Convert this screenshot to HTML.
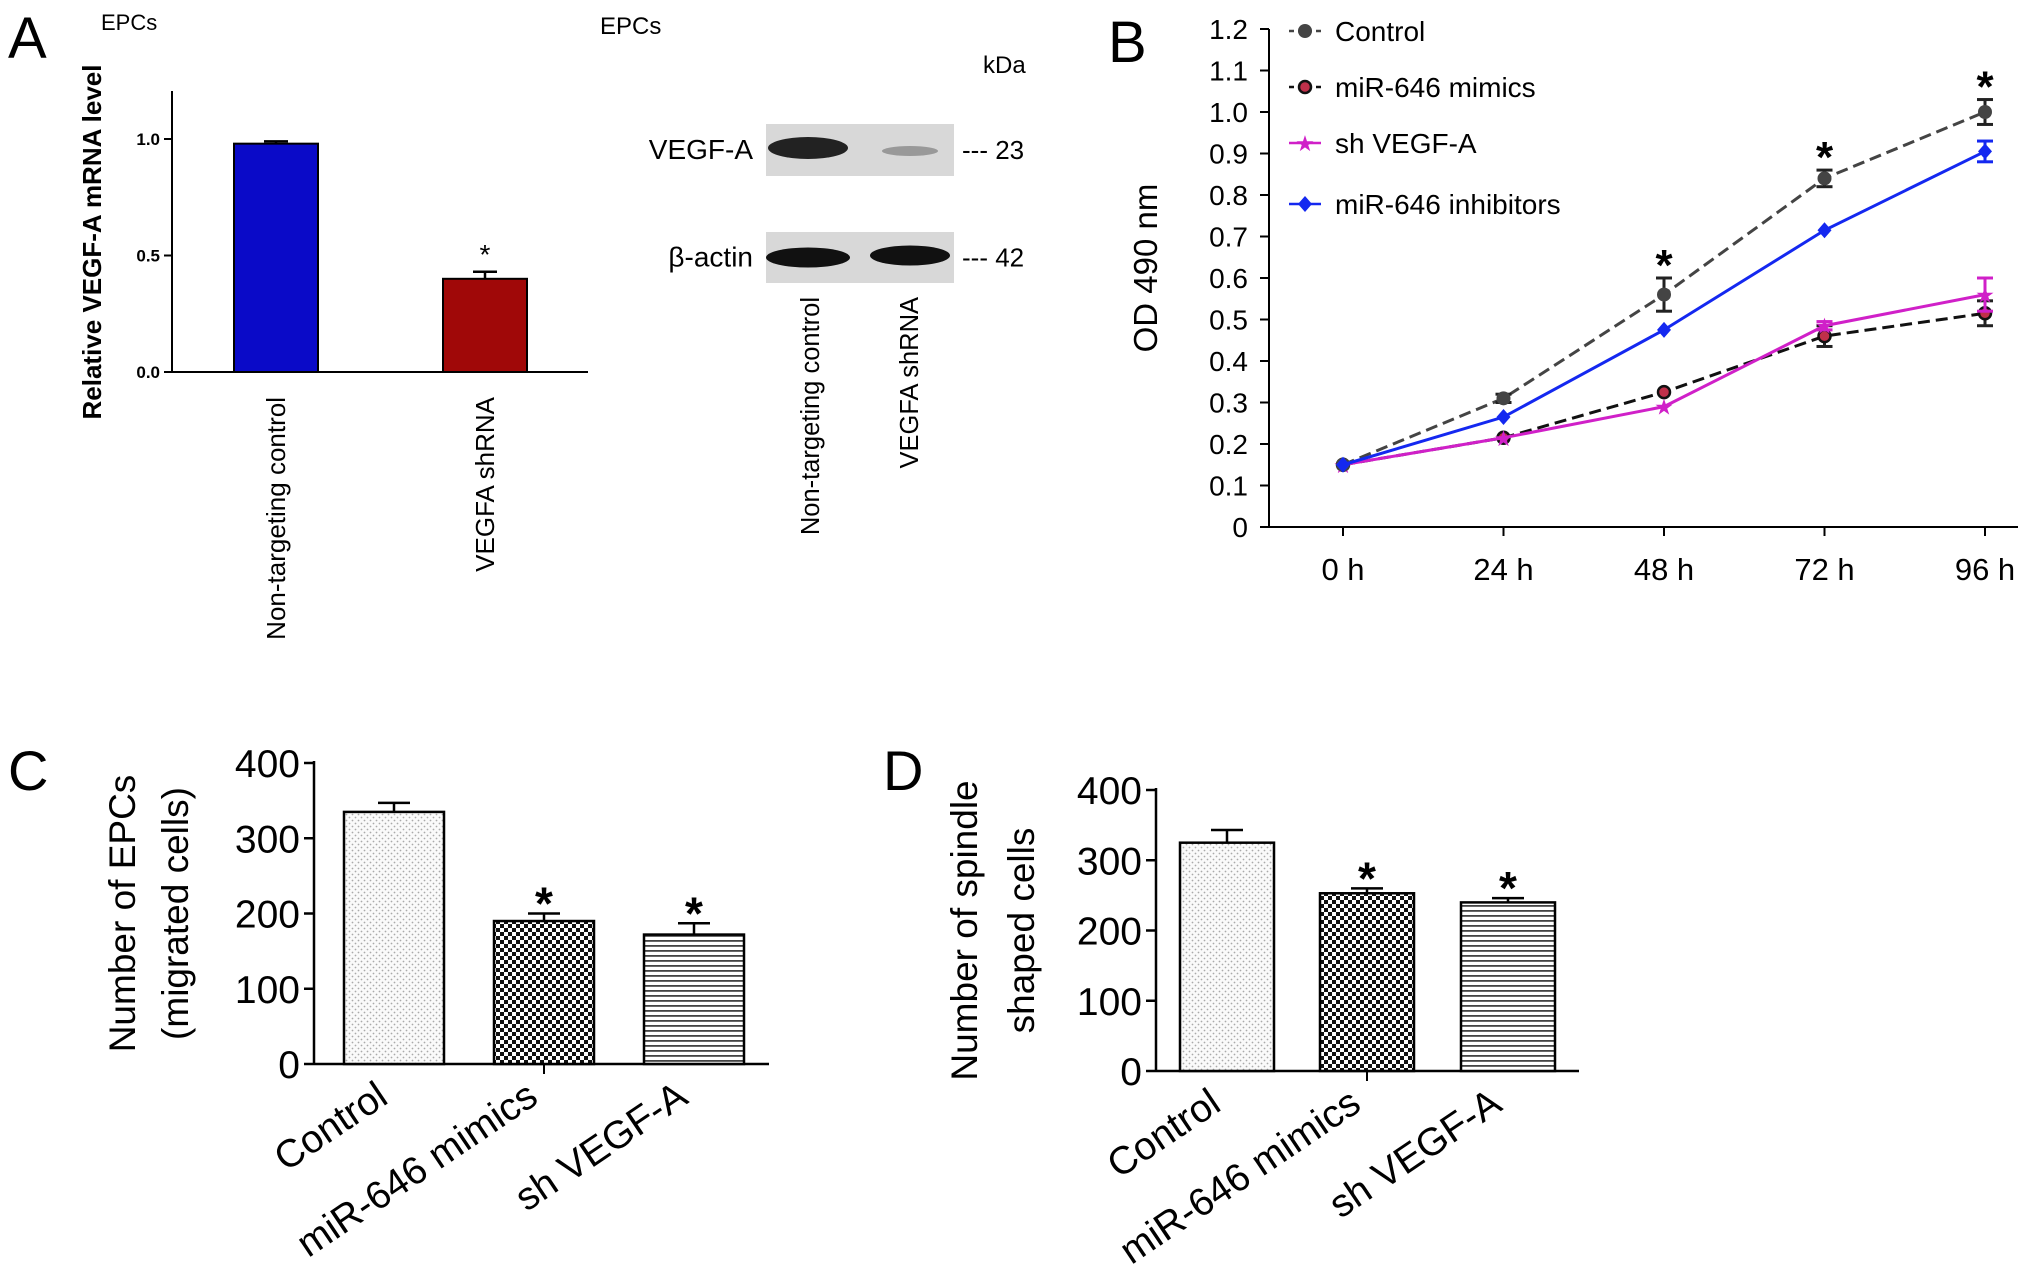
<!DOCTYPE html>
<html><head><meta charset="utf-8"><style>
html,body{margin:0;padding:0;background:#fff;width:2031px;height:1274px;overflow:hidden}
svg{display:block;font-family:"Liberation Sans",Arial,sans-serif}
</style></head><body>
<svg id="fig" width="2031" height="1274" viewBox="0 0 2031 1274">
<defs>
<pattern id="dots" width="6" height="6" patternUnits="userSpaceOnUse"><rect width="6" height="6" fill="#fafafa"/><circle cx="1.5" cy="1.5" r="0.9" fill="#aaa"/><circle cx="4.5" cy="4.5" r="0.9" fill="#aaa"/></pattern>
<pattern id="checks" width="8" height="8" patternUnits="userSpaceOnUse"><rect width="8" height="8" fill="#fff"/><rect width="4" height="4" fill="#111"/><rect x="4" y="4" width="4" height="4" fill="#111"/></pattern>
<pattern id="stripes" width="6" height="5" patternUnits="userSpaceOnUse"><rect width="6" height="5" fill="#fff"/><rect y="0" width="6" height="1.8" fill="#444"/></pattern>
</defs>
<g id="root"></g>
</svg>
<script>
// Panel A
const aCats=["Non-targeting control","VEGFA shRNA"];
const aVals=[0.98,0.40];
const aErr=[0.01,0.03];
const aTicks=[0.0,0.5,1.0];
// Panel B
const bCats=["0 h","24 h","48 h","72 h","96 h"];
const bSeriesNames=["Control","miR-646 mimics","sh VEGF-A","miR-646 inhibitors"];
const bControl=[0.15,0.31,0.56,0.84,1.0];
const bMimics=[0.15,0.215,0.325,0.46,0.515];
const bSh=[0.15,0.215,0.29,0.485,0.56];
const bInhib=[0.15,0.265,0.475,0.715,0.905];
const bControlErr=[0.005,0.01,0.04,0.02,0.03];
const bMimicsErr=[0.005,0.005,0.005,0.025,0.03];
const bShErr=[0.005,0.005,0.005,0.01,0.04];
const bInhibErr=[0.005,0.005,0.005,0.005,0.025];
const bTicks=[0,0.1,0.2,0.3,0.4,0.5,0.6,0.7,0.8,0.9,1.0,1.1,1.2];
// Panel C
const cCats=["Control","miR-646 mimics","sh VEGF-A"];
const cVals=[335,190,172];
const cErr=[12,10,15];
const cTicks=[0,100,200,300,400];
// Panel D
const dCats=["Control","miR-646 mimics","sh VEGF-A"];
const dVals=[325,253,240];
const dErr=[18,7,6];
const dTicks=[0,100,200,300,400];

const NS="http://www.w3.org/2000/svg";
const root=document.getElementById('root');
function el(tag,attrs,parent,text){const e=document.createElementNS(NS,tag);for(const k in attrs)e.setAttribute(k,attrs[k]);if(text!==undefined)e.textContent=text;(parent||root).appendChild(e);return e;}
function line(x1,y1,x2,y2,st,w,p,dash){const l=el('line',{x1,y1,x2,y2,stroke:st||'#000','stroke-width':w||2},p);if(dash)l.setAttribute('stroke-dasharray',dash);return l;}

// ---------- Panel A ----------
const gA=el('g',{});


let t=el('text',{x:8,y:58,'font-size':58},gA,'A');

t=el('text',{x:101,y:30,'font-size':22},gA,'EPCs');

const aY=v=>372-v*(372-139);
line(172,91,172,372,'#000',2,gA);line(172,372,588,372,'#000',2,gA);
aTicks.forEach(v=>{line(164,aY(v),172,aY(v),'#000',2,gA);const tt=el('text',{x:160,y:aY(v)+6,'font-size':17,'font-weight':'bold','text-anchor':'end'},gA,v.toFixed(1));});
const aX=[276,485],aColors=['#0a0ac8','#a00808'];
aVals.forEach((v,i)=>{const w=84;const r=el('rect',{x:aX[i]-w/2,y:aY(v),width:w,height:aY(0)-aY(v),fill:aColors[i],stroke:'#000','stroke-width':2},gA);
 const ye=aY(v+aErr[i]);line(aX[i],aY(v),aX[i],ye,'#000',2.5,gA);line(aX[i]-12,ye,aX[i]+12,ye,'#000',2.5,gA);
 const lb=el('text',{transform:`translate(${aX[i]+9},397) rotate(-90)`,'font-size':26,'text-anchor':'end'},gA,aCats[i]);});
t=el('text',{x:485,y:aY(aVals[1]+aErr[1])-8,'font-size':28,'text-anchor':'middle'},gA,'*');
t=el('text',{transform:'translate(101,242) rotate(-90)','font-size':26,'font-weight':'bold','text-anchor':'middle'},gA,'Relative VEGF-A mRNA level');

// western blot
t=el('text',{x:600,y:34,'font-size':24},gA,'EPCs');
t=el('text',{x:983,y:73,'font-size':24},gA,'kDa');
[['VEGF-A',124,176,'--- 23'],['β-actin',232,283,'--- 42']].forEach((b,i)=>{
 const r=el('rect',{x:766,y:b[1],width:188,height:b[2]-b[1],fill:'#d8d8d8'},gA);
 const cy=(b[1]+b[2])/2;
 if(i===0){el('ellipse',{cx:808,cy:cy-2,rx:40,ry:11,fill:'#222'},gA);el('ellipse',{cx:910,cy:cy+1,rx:28,ry:5,fill:'#999'},gA);}
 else{el('ellipse',{cx:808,cy:cy,rx:42,ry:10,fill:'#111'},gA);el('ellipse',{cx:910,cy:cy-2,rx:40,ry:10,fill:'#111'},gA);}
 const l=el('text',{x:753,y:cy+9,'font-size':28,'text-anchor':'end'},gA,b[0]);
 const k=el('text',{x:962,y:cy+9,'font-size':26},gA,b[3]);
});
[['Non-targeting control',819],['VEGFA shRNA',918]].forEach(l=>{const tt=el('text',{transform:`translate(${l[1]},297) rotate(-90)`,'font-size':25.5,'text-anchor':'end'},gA,l[0]);});

// ---------- Panel B ----------
const gB=el('g',{});


t=el('text',{x:1108,y:62,'font-size':58},gB,'B');
const bY=v=>527-v*(527-29)/1.2;
const bX=i=>1343+i*160.5;
line(1269,29,1269,527,'#000',2,gB);line(1260,527,2018,527,'#000',2,gB);
bTicks.forEach(v=>{line(1260,bY(v),1269,bY(v),'#000',2,gB);const tt=el('text',{x:1248,y:bY(v)+10,'font-size':28,'text-anchor':'end'},gB,v===0?'0':v.toFixed(1));});
bCats.forEach((c,i)=>{line(bX(i),527,bX(i),536,'#000',2,gB);const tt=el('text',{x:bX(i),y:580,'font-size':31,'text-anchor':'middle'},gB,c);});
t=el('text',{transform:'translate(1157,268) rotate(-90)','font-size':33,'text-anchor':'middle'},gB,'OD 490 nm');
const series=[
 {vals:bMimics,err:bMimicsErr,color:'#111',dash:'12,6',marker:'circle',fill:'#c0304a'},
 {vals:bSh,err:bShErr,color:'#d020c8',dash:null,marker:'star',fill:'#d020c8'},
 {vals:bControl,err:bControlErr,color:'#444',dash:'12,6',marker:'dot',fill:'#444'},
 {vals:bInhib,err:bInhibErr,color:'#1428f0',dash:null,marker:'diamond',fill:'#1428f0'}];
function marker(s,x,y,g){
 if(s.marker==='diamond')return el('polygon',{points:`${x},${y-8} ${x+7},${y} ${x},${y+8} ${x-7},${y}`,fill:s.fill},g);
 if(s.marker==='star')return el('text',{x,y:y+8,'font-size':22,'text-anchor':'middle',fill:s.fill},g,'★');
 if(s.marker==='circle')return el('circle',{cx:x,cy:y,r:6,fill:s.fill,stroke:'#111','stroke-width':2.5},g);
 return el('circle',{cx:x,cy:y,r:7,fill:s.fill},g);
}
series.forEach((s,si)=>{
 const g=el('g',{},gB);
 
 
 const p=el('polyline',{points:s.vals.map((v,i)=>bX(i)+','+bY(v)).join(' '),fill:'none',stroke:s.color,'stroke-width':3},g);
 if(s.dash)p.setAttribute('stroke-dasharray',s.dash);
 s.vals.forEach((v,i)=>{const e=s.err[i];if(e>0.006){const ec=s.marker==='circle'||s.marker==='dot'?'#222':s.color;line(bX(i),bY(v-e),bX(i),bY(v+e),ec,3,g);line(bX(i)-8,bY(v+e),bX(i)+8,bY(v+e),ec,3,g);line(bX(i)-8,bY(v-e),bX(i)+8,bY(v-e),ec,3,g);}
  const m=marker(s,bX(i),bY(v),g);});
});
[2,3,4].forEach(i=>{const tt=el('text',{x:bX(i),y:bY(bControl[i]+bControlErr[i])+2,'font-size':44,'text-anchor':'middle','font-weight':'bold'},gB,'*');});
// legend
const legY=[31,87,143,204];
const legS=[series[2],series[0],series[1],series[3]];
bSeriesNames.forEach((n,i)=>{const g=el('g',{},gB);
 const s=legS[i];const l=line(1289,legY[i],1321,legY[i],s.color,2.5,g);if(s.dash)l.setAttribute('stroke-dasharray','5,4');
 marker(s,1305,legY[i],g);el('text',{x:1335,y:legY[i]+10,'font-size':28},g,n);});

// ---------- Panels C & D ----------
function barPanel(name,letter,lx,ly,axX,y400,y0,axEnd,xs,w,vals,err,cats,ticks,titles,tx){
 const g=el('g',{});
 
 
 let tt=el('text',{x:lx,y:ly,'font-size':56},g,letter);
 const Y=v=>y0-v*(y0-y400)/400;
 line(axX,y400-2,axX,y0,'#000',2.5,g);line(axX,y0,axEnd,y0,'#000',2.5,g);
 ticks.forEach(v=>{line(axX-10,Y(v),axX,Y(v),'#000',2.5,g);const k=el('text',{x:axX-14,y:Y(v)+14,'font-size':39,'text-anchor':'end'},g,String(v));});
 line(xs[1],y0,xs[1],y0+10,'#000',2,g);
 const fills=['url(#dots)','url(#checks)','url(#stripes)'];
 vals.forEach((v,i)=>{const cx=xs[i];
  const ye=Y(v+err[i]);line(cx,Y(v),cx,ye,'#000',2.5,g);line(cx-16,ye,cx+16,ye,'#000',2.5,g);
  const r=el('rect',{x:cx-w/2,y:Y(v),width:w,height:y0-Y(v),fill:fills[i],stroke:'#000','stroke-width':2.5},g);
  if(i>0){const s=el('text',{x:cx,y:ye+6,'font-size':46,'text-anchor':'middle','font-weight':'bold'},g,'*');}
  const lb=el('text',{transform:`translate(${cx-4},${y0+38}) rotate(-34)`,'font-size':39,'text-anchor':'end'},g,cats[i]);});
 titles.forEach((ti,i)=>{const k=el('text',{transform:`translate(${tx[i]},${(y400+y0)/2}) rotate(-90)`,'font-size':37,'text-anchor':'middle'},g,ti);});
}
barPanel('panel-c','C',8,790,314,763,1064,769,[394,544,694],100,cVals,cErr,cCats,cTicks,['Number of EPCs','(migrated cells)'],[135,188]);
barPanel('panel-d','D',883,790,1156,790,1071,1579,[1227,1367,1508],94,dVals,dErr,dCats,dTicks,['Number of spindle','shaped cells'],[977,1034]);
</script>
</body></html>
